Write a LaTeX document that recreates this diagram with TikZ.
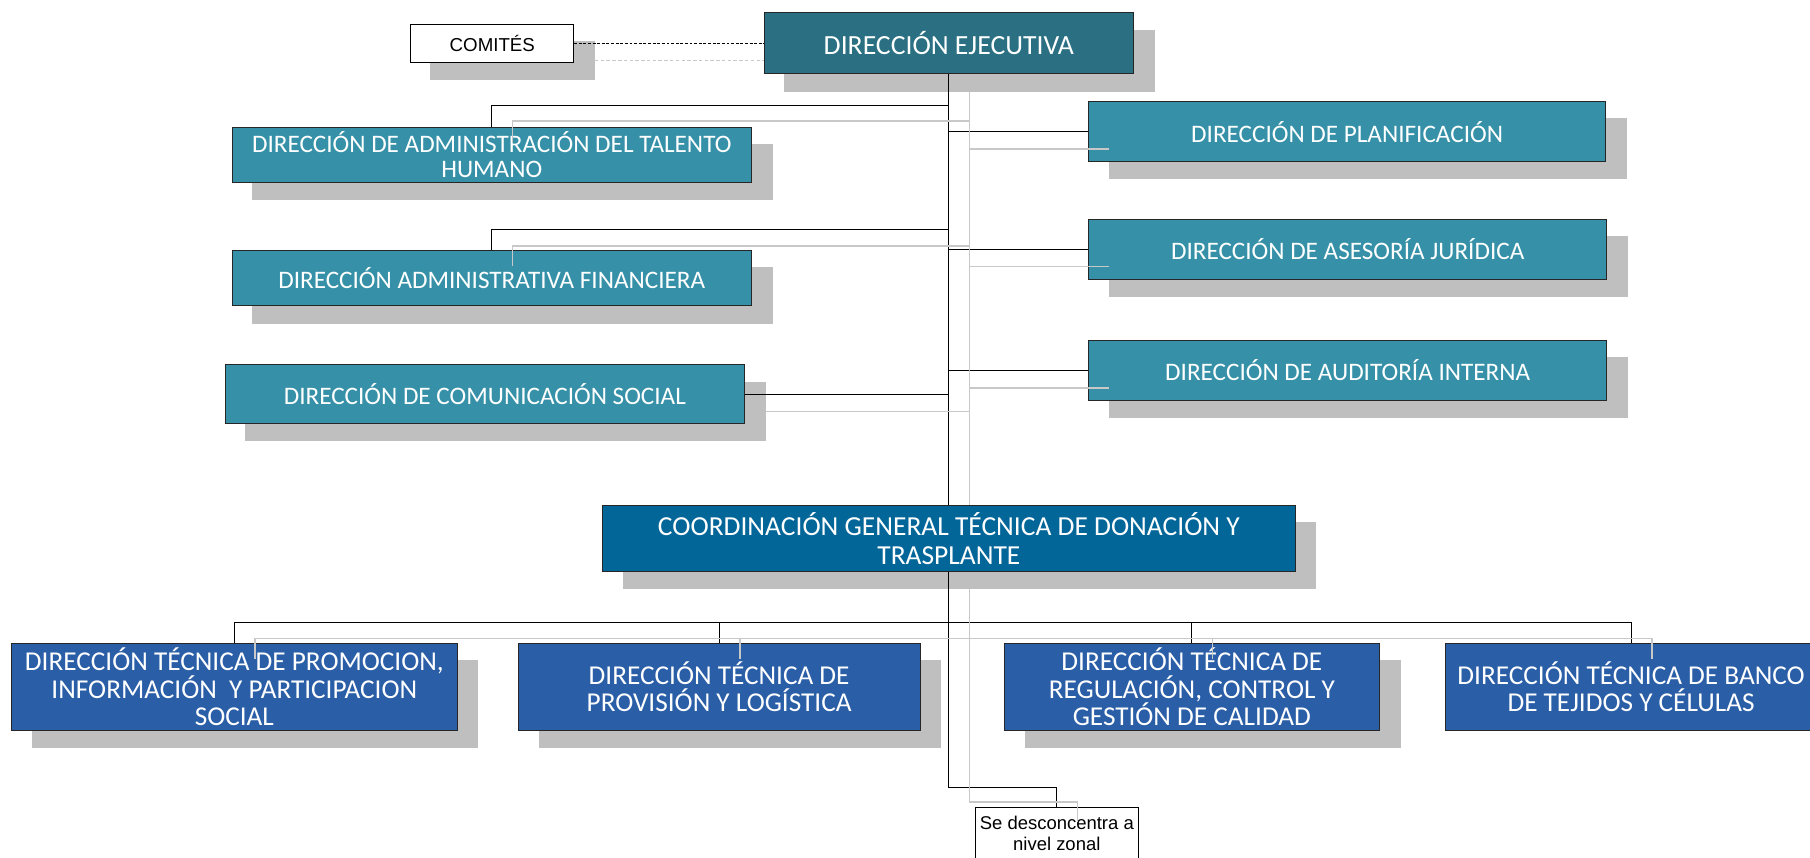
\documentclass[tikz,border=0pt]{standalone}
\usepackage{fontspec}
\setmainfont{Carlito}
\newfontfamily\arialf{Liberation Sans}
\usetikzlibrary{calc}
\pgfdeclarelayer{shadowlayer}
\pgfdeclarelayer{linelayer}
\pgfsetlayers{shadowlayer,linelayer,main}
\definecolor{decol}{RGB}{42,112,130}
\definecolor{stcol}{RGB}{54,145,168}
\definecolor{cocol}{RGB}{3,102,153}
\definecolor{btcol}{RGB}{42,94,167}
\definecolor{shcol}{RGB}{191,191,191}
\definecolor{lgcol}{RGB}{200,200,200}
\tikzset{
  orgbox/.style={draw=black!85, line width=0.8pt, text=white, align=center, inner sep=0pt},
  debox/.style={orgbox, fill=decol, font=\fontsize{24}{26}\selectfont},
  stbox/.style={orgbox, fill=stcol, minimum height=50pt, font=\fontsize{21.8}{22}\selectfont},
  cobox/.style={orgbox, fill=cocol, font=\fontsize{23.8}{25}\selectfont},
  btbox/.style={orgbox, fill=btcol, minimum height=76pt, font=\fontsize{23.6}{24}\selectfont},
  whbox/.style={draw=black, line width=0.8pt, fill=white, text=black, align=center, inner sep=0pt},
  blk/.style={draw=black, line width=0.9pt},
  gry/.style={draw=lgcol, line width=1.4pt},
}
\newcommand\shadowof[1]{\fill[shcol] ([shift={(18,15)}]#1.north west) rectangle ([shift={(18,15)}]#1.south east);}
\begin{document}
\begin{tikzpicture}[x=1pt,y=-1pt]
\useasboundingbox (0,0) rectangle (1568,743);
\clip (0,0) rectangle (1568,743);

% boxes
\node[debox, minimum width=320pt, minimum height=53pt] (de) at (822,37.5) {DIRECCIÓN EJECUTIVA};
\node[whbox, minimum width=141pt, minimum height=33pt, font=\arialf\fontsize{16.2}{18}\selectfont] (cm) at (426.5,37.5) {COMITÉS};

\node[stbox, minimum width=450pt, minimum height=48pt] (th) at (426,134) {DIRECCIÓN DE ADMINISTRACIÓN DEL TALENTO\\HUMANO};
\node[stbox, minimum width=450pt, minimum height=48pt] (af) at (426,241) {DIRECCIÓN ADMINISTRATIVA FINANCIERA};
\node[stbox, minimum width=450pt, minimum height=51pt] (cs) at (420,341.5) {DIRECCIÓN DE COMUNICACIÓN SOCIAL};

\node[stbox, minimum width=448pt, minimum height=52pt] (pl) at (1167,114) {DIRECCIÓN DE PLANIFICACIÓN};
\node[stbox, minimum width=449pt, minimum height=52pt] (as) at (1167.5,216) {DIRECCIÓN DE ASESORÍA JURÍDICA};
\node[stbox, minimum width=449pt, minimum height=52pt] (au) at (1167.5,321) {DIRECCIÓN DE AUDITORÍA INTERNA};

\node[cobox, minimum width=600pt, minimum height=57pt] (co) at (822,466.5) {COORDINACIÓN GENERAL TÉCNICA DE DONACIÓN Y\\TRASPLANTE};

\node[btbox, minimum width=386pt] (pr) at (203,595) {DIRECCIÓN TÉCNICA DE PROMOCION,\\INFORMACIÓN\ \ Y PARTICIPACION\\SOCIAL};
\node[btbox, minimum width=348pt] (pv) at (623,595) {DIRECCIÓN TÉCNICA DE\\PROVISIÓN Y LOGÍSTICA};
\node[btbox, minimum width=325pt] (rg) at (1032.5,595) {DIRECCIÓN TÉCNICA DE\\REGULACIÓN, CONTROL Y\\GESTIÓN DE CALIDAD};
\node[btbox, minimum width=322pt] (bn) at (1413,595) {DIRECCIÓN TÉCNICA DE BANCO\\DE TEJIDOS Y CÉLULAS};

\node[whbox, minimum width=141pt, anchor=north] (sd) at (915.5,699) {\parbox[t][62pt][t]{141pt}{\centering\arialf\fontsize{16}{18}\selectfont\rule{0pt}{19pt}Se desconcentra a\\nivel zonal}};

% shadows
\begin{pgfonlayer}{shadowlayer}
\shadowof{de}
\fill[shcol] ([shift={(17,15)}]cm.north west) rectangle ([shift={(18,15)}]cm.south east);
\shadowof{th}\shadowof{af}\shadowof{cs}
\shadowof{pl}\shadowof{as}\shadowof{au}
\shadowof{co}
\shadowof{pr}\shadowof{pv}\shadowof{rg}
\end{pgfonlayer}

% junction coordinates
\coordinate (jth) at (822,91);
\coordinate (jaf) at (822,199);
\coordinate (jpl) at (822,114);
\coordinate (jas) at (822,216);
\coordinate (jau) at (822,321);
\coordinate (jcs) at (822,341.5);
\coordinate (jbus) at (822,539);
\coordinate (jsd) at (822,682);
\coordinate (cmg) at ([shift={(18,15)}]cm.east);

% black connectors
\begin{pgfonlayer}{linelayer}
\draw[blk] (de.south) -- (co.north);
\draw[blk] (co.south) -- (jsd) -| (sd.north);
\draw[blk] (jth) -| (th.north);
\draw[blk] (jaf) -| (af.north);
\draw[blk] (cs.east) -- (jcs);
\draw[blk] (jpl) -- (pl.west);
\draw[blk] (jas) -- (as.west);
\draw[blk] (jau) -- (au.west);
\draw[blk] (pr.north) |- (jbus) -| (bn.north);
\draw[blk] (pv.north) -- (pv.north |- jbus);
\draw[blk] (rg.north) -- (rg.north |- jbus);
\end{pgfonlayer}
\draw[black, line width=0.8pt, dash pattern=on 2.5pt off 1.5pt] (cm.east) -- (de.west);

% grey (offset) connectors
\draw[gry, dash pattern=on 3pt off 2pt, line width=1pt] (cmg) -- (de.west |- cmg);
\draw[gry] ([shift={(18,15)}]de.south) -- ([shift={(18,0)}]co.north);
\draw[gry] ([shift={(18,15)}]co.south) -- ([shift={(18,13)}]jsd) -| ([shift={(18,13)}]sd.north);
\draw[gry] ([shift={(18,14)}]jth) -| ([shift={(18,14)}]th.north);
\draw[gry] ([shift={(18,14)}]jaf) -| ([shift={(18,14)}]af.north);
\draw[gry] ([shift={(18,15)}]cs.east) -- ([shift={(18,15)}]jcs);
\draw[gry] ([shift={(18,15)}]jpl) -- ([shift={(18,15)}]pl.west);
\draw[gry] ([shift={(18,15)}]jas) -- ([shift={(18,15)}]as.west);
\draw[gry] ([shift={(18,15)}]jau) -- ([shift={(18,15)}]au.west);
\draw[gry] ([shift={(18,14)}]pr.north) |- ([shift={(18,14)}]jbus) -| ([shift={(18,14)}]bn.north);
\draw[gry] ([shift={(18,14)}]pv.north) -- ([shift={(18,14)}]pv.north |- jbus);
\draw[gry] ([shift={(18,14)}]rg.north) -- ([shift={(18,14)}]rg.north |- jbus);
\end{tikzpicture}
\end{document}
